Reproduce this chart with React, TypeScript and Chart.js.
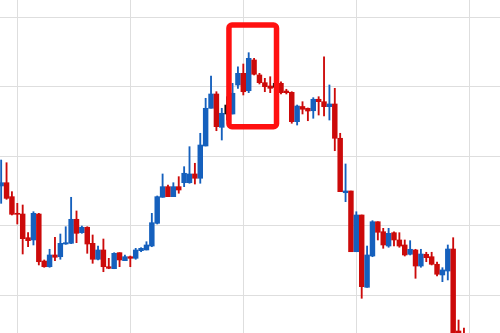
import React, { useEffect, useRef } from "react";
import { Chart, registerables } from "chart.js";

Chart.register(...registerables);

// OHLC values, one entry per session (index = session number)
const opens = [
  115.71, 116.18, 114.17, 111.77, 111.67, 108.26, 107.93, 111.67, 104.9, 104.08,
  105.77, 105.52, 107.35, 107.45, 110.91, 108.98, 109.76, 107.45, 105.15, 106.49,
  104.08, 103.8, 106.1, 104.95, 105.52, 105.29, 106.39, 106.49, 107.06, 110.33,
  114.08, 115.61, 114.17, 115.61, 116.18, 116.18, 117.44, 116.82, 121.47, 126.9,
  128.96, 124.16, 126.08, 126.08, 130.26, 131.94, 129.43, 133.86, 131.7, 130.59,
  130.11, 129.92, 130.5, 129.39, 129.2, 124.97, 127.16, 126.9, 126.55, 128.2,
  127.85, 127.13, 127.52, 122.58, 114.74, 114.99, 106.24, 111.53, 101.11, 105.62,
  110.56, 109.12, 107.06, 108.98, 107.93, 107.21, 105.87, 106.49, 104.18, 105.87,
  105.52, 104.43, 102.89, 103.46, 106.63, 94.82, 94.2,
];
const highs = [
  119.45, 119.06, 114.89, 113.21, 112.97, 108.98, 112.0, 111.77, 105.05, 106.59,
  108.32, 108.79, 109.84, 114.08, 112.11, 109.94, 109.84, 108.65, 107.06, 108.07,
  105.29, 106.1, 106.1, 105.77, 105.62, 106.73, 106.82, 107.68, 111.77, 114.27,
  117.44, 115.85, 116.18, 117.05, 118.49, 121.37, 118.98, 123.3, 128.34, 131.55,
  129.29, 126.9, 128.57, 130.5, 132.89, 133.28, 134.91, 134.1, 131.94, 131.22,
  131.45, 130.59, 130.73, 129.64, 129.29, 127.37, 127.85, 126.94, 128.43, 128.57,
  134.33, 130.26, 129.78, 123.3, 118.88, 114.99, 112.0, 111.53, 107.06, 110.71,
  110.56, 109.61, 109.61, 109.12, 108.98, 107.93, 107.83, 106.59, 106.59, 106.16,
  106.16, 104.76, 103.94, 107.21, 108.26, 96.4, 95.25,
];
const lows = [
  113.21, 113.79, 111.53, 110.23, 105.91, 106.96, 107.21, 104.33, 104.0, 104.0,
  104.95, 105.15, 107.3, 107.4, 107.54, 108.89, 106.01, 104.57, 105.05, 103.36,
  103.79, 103.79, 104.08, 104.95, 104.08, 105.15, 106.24, 106.49, 106.96, 110.23,
  114.08, 114.17, 114.17, 114.66, 115.61, 116.1, 115.99, 116.1, 121.47, 126.9,
  123.67, 122.33, 125.21, 126.08, 129.78, 128.82, 129.15, 131.7, 130.4, 129.29,
  129.15, 129.06, 128.96, 128.96, 124.74, 124.49, 126.08, 125.11, 125.46, 125.93,
  125.79, 125.21, 120.79, 114.89, 113.45, 106.24, 106.24, 99.53, 101.11, 105.52,
  107.93, 106.73, 106.88, 107.06, 106.88, 105.62, 105.77, 102.41, 104.0, 104.8,
  104.33, 102.74, 101.92, 102.17, 92.08, 91.0, 92.5,
];
const closes = [
  116.18, 113.93, 111.63, 111.63, 108.12, 107.83, 111.77, 104.8, 104.08, 105.77,
  105.44, 107.45, 107.54, 110.91, 108.89, 109.76, 107.35, 105.15, 106.49, 104.08,
  103.85, 106.01, 105.05, 105.52, 105.29, 106.49, 106.73, 107.21, 110.42, 114.17,
  115.61, 114.17, 115.61, 115.13, 117.54, 117.44, 116.82, 121.61, 126.9, 128.96,
  124.25, 126.18, 127.37, 129.06, 131.94, 129.29, 134.1, 131.8, 130.59, 130.01,
  129.78, 130.5, 129.15, 129.15, 124.97, 127.23, 126.76, 126.51, 128.2, 127.85,
  127.13, 127.52, 122.58, 114.89, 114.99, 106.24, 111.53, 101.2, 105.77, 110.56,
  109.04, 107.21, 108.89, 107.93, 107.06, 105.77, 106.59, 104.18, 105.91, 105.38,
  104.43, 102.99, 103.61, 106.63, 92.8, 92.0, 93.0,
];

// sessions drawn in black (marked sessions)
const markedSessions = [42, 51];

// vertical grid every 21 sessions, horizontal grid every 10 price units
const sessionGridTicks = [3, 24, 45, 66, 87];
const priceGridTicks = [100, 110, 120, 130, 140];

// highlighted window (sessions / price range)
const windowStart = 42.33;
const windowEnd = 51.17;
const windowHigh = 138.9;
const windowLow = 124.25;

const BLUE = "#1560bd";
const RED = "#cc0a0a";
const BLACK = "#111111";

const boxPlugin = {
  id: "highlightBox",
  afterDatasetsDraw(chart: any) {
    const { ctx, scales } = chart;
    const x = scales.x;
    const y = scales.y;
    const l = x.getPixelForValue(windowStart);
    const r = x.getPixelForValue(windowEnd);
    const t = y.getPixelForValue(windowHigh);
    const b = y.getPixelForValue(windowLow);
    ctx.save();
    ctx.strokeStyle = "#ff1010";
    ctx.lineWidth = 5.5;
    ctx.lineJoin = "round";
    ctx.beginPath();
    if (ctx.roundRect) ctx.roundRect(l, t, r - l, b - t, 3);
    else ctx.rect(l, t, r - l, b - t);
    ctx.stroke();
    ctx.restore();
  },
};

export default function App() {
  const ref = useRef<HTMLCanvasElement>(null);

  useEffect(() => {
    if (!ref.current) return;
    const idx = opens.map((_, i) => i);
    const colors = idx.map((i) =>
      markedSessions.includes(i) ? BLACK : closes[i] >= opens[i] ? BLUE : RED
    );
    const chart = new Chart(ref.current, {
      type: "bar",
      data: {
        datasets: [
          {
            label: "body",
            data: idx.map((i) => ({ x: i, y: [opens[i], closes[i]] })) as any,
            backgroundColor: colors,
            barThickness: 4.8,
            grouped: false,
            order: 0,
            minBarLength: 1,
            borderWidth: 0,
          },
          {
            label: "wick",
            data: idx.map((i) => ({ x: i, y: [lows[i], highs[i]] })) as any,
            backgroundColor: colors,
            barThickness: 1.2,
            grouped: false,
            order: 1,
            borderWidth: 0,
          },
        ],
      },
      options: {
        animation: false,
        responsive: false,
        maintainAspectRatio: false,
        devicePixelRatio: 1,
        layout: { padding: 0 },
        plugins: {
          legend: { display: false },
          tooltip: { enabled: false },
        },
        scales: {
          x: {
            type: "linear",
            min: -0.216,
            max: 92.7,
            offset: false,
            afterBuildTicks: (s: any) => {
              s.ticks = sessionGridTicks.map((v) => ({ value: v }));
            },
            ticks: { display: false },
            grid: { color: "#dedede", lineWidth: 1, drawTicks: false, offset: false },
            border: { display: false },
          },
          y: {
            type: "linear",
            min: 94.53,
            max: 142.5,
            afterBuildTicks: (s: any) => {
              s.ticks = priceGridTicks.map((v) => ({ value: v }));
            },
            ticks: { display: false },
            grid: { color: "#dedede", lineWidth: 1, drawTicks: false, offset: false },
            border: { display: false },
          },
        },
      } as any,
      plugins: [boxPlugin],
    });
    return () => chart.destroy();
  }, []);

  return (
    <div
      style={{
        position: "fixed",
        left: 0,
        top: 0,
        width: 500,
        height: 333,
        background: "#ffffff",
      }}
    >
      <canvas ref={ref} width={500} height={333} style={{ display: "block" }} />
    </div>
  );
}
